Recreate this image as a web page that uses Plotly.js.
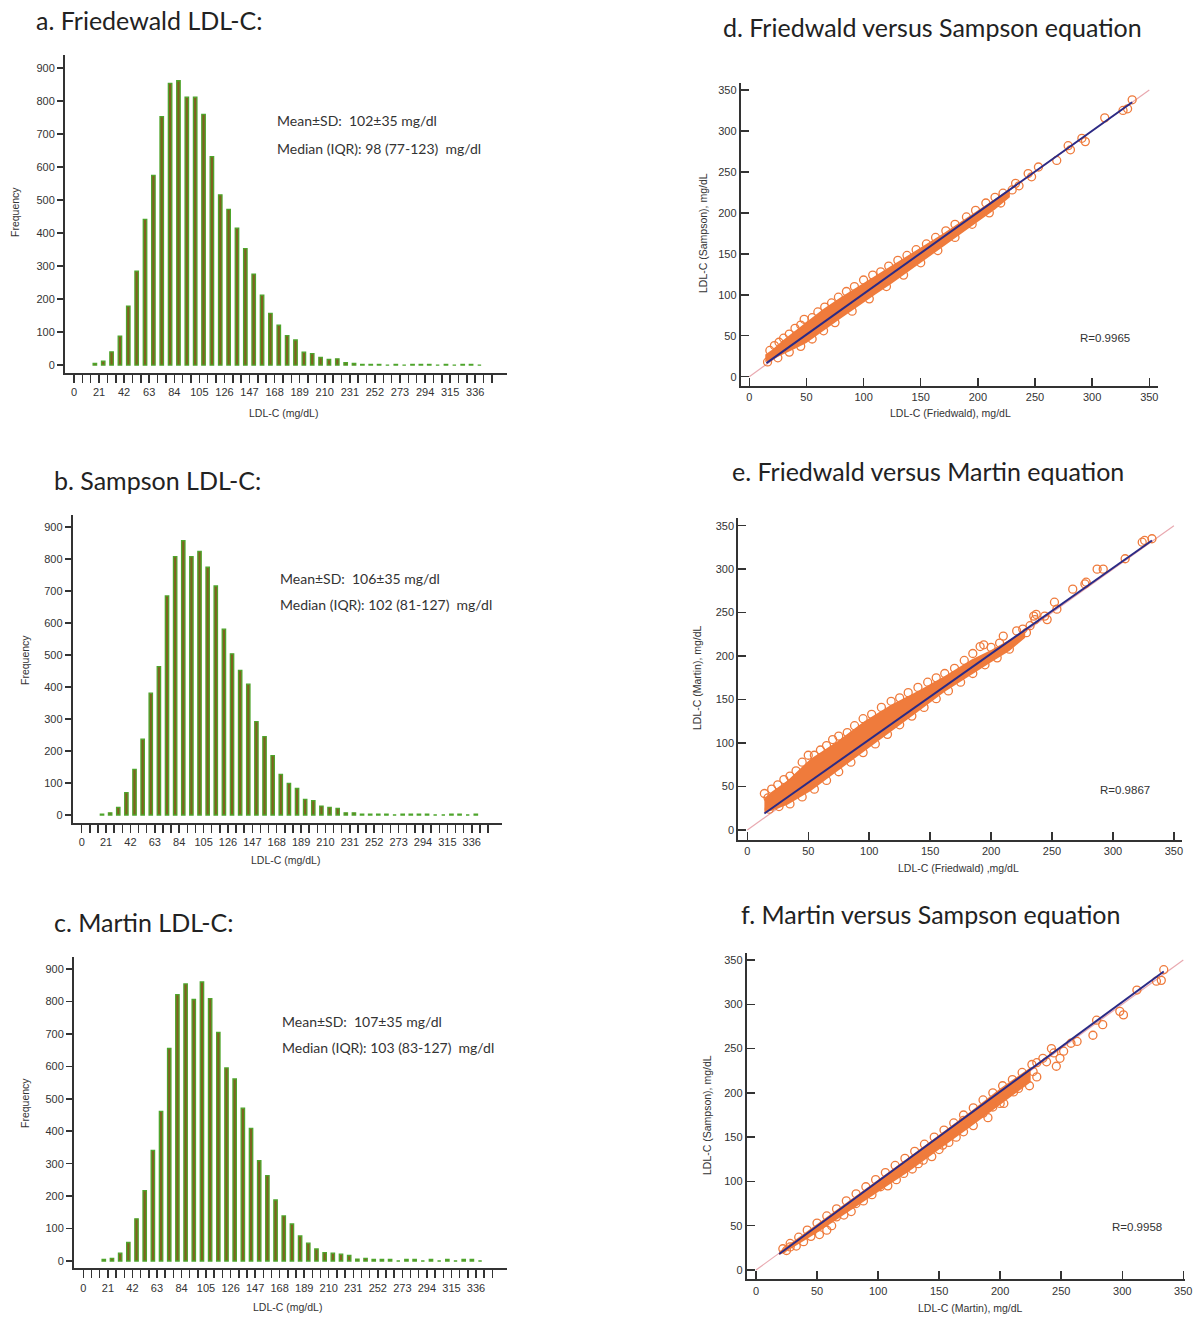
<!DOCTYPE html>
<html>
<head>
<meta charset="utf-8">
<script src="https://cdn.plot.ly/plotly-3.0.1.min.js"></script>
<style>html,body{margin:0;padding:0;background:#fff}#chart{width:1203px;height:1317px}</style>
</head>
<body>
<div id="chart"></div>
<script>
// ---------- DATA ----------
// Histogram bins (lower edges, mg/dL), bin width 7
const binLow = [14,21,28,35,42,49,56,63,70,77,84,91,98,105,112,119,126,133,140,147,154,161,168,175,182,189,196,203,210,217,224,231,238,245,252,259,266,273,280,287,294,301,308,315,322,329,336];
const binWidth = 7;
const freqFriedewald = [5,12,40,88,179,285,442,575,753,854,862,812,812,760,632,516,472,415,353,276,212,157,121,89,76,39,35,23,17,19,7,5,2,2,2,0,2,0,2,2,2,0,2,0,2,2,0];
const freqSampson    = [3,7,24,70,143,237,381,464,685,808,858,808,824,775,716,581,504,452,409,292,245,186,127,99,83,49,45,28,24,21,7,7,3,3,3,3,0,3,3,3,3,0,0,3,3,0,3];
const freqMartin     = [5,8,24,57,130,217,341,461,655,821,854,806,860,809,705,595,561,471,409,309,263,188,139,114,77,55,37,26,24,21,17,6,8,5,5,5,0,5,5,0,5,0,5,0,5,5,0];
const histTicks = [0,21,42,63,84,105,126,147,168,189,210,231,252,273,294,315,336];

const histTitles = ["a. Friedewald LDL-C:", "b. Sampson LDL-C:", "c. Martin LDL-C:"];
const histStats = [
  ["Mean±SD:  102±35 mg/dl", "Median (IQR): 98 (77-123)  mg/dl"],
  ["Mean±SD:  106±35 mg/dl", "Median (IQR): 102 (81-127)  mg/dl"],
  ["Mean±SD:  107±35 mg/dl", "Median (IQR): 103 (83-127)  mg/dl"]
];

// Scatter d: Friedwald (x) vs Sampson (y)
const dBandX = [14,20,30,40,50,65,80,95,110,125,140,155,170,185,200,215,228];
const dBandUp = [27,33,45,56,66,83,97,110,123,136,148,161,175,189,203,217,229];
const dBandLo = [18,21,27,34,41,56,71,86,100,114,128,143,158,174,189,204,219];
const dPtsX = [18,22,26,30,35,40,45,48,55,60,66,72,78,85,92,100,108,115,122,130,138,146,155,163,172,180,190,198,207,215,222,
               16,25,35,45,55,65,75,90,105,120,135,150,165,180,195,210,220,
               230,233,236,244,247,253,269,279,281,291,294,311,327,331,335];
const dPtsY = [32,38,42,47,52,59,63,70,72,79,85,90,97,104,110,118,124,128,135,142,148,155,162,170,178,186,195,203,212,219,224,
               18,23,30,37,46,56,66,80,95,110,124,139,154,170,186,200,212,
               228,236,233,248,244,256,264,282,277,291,287,316,325,327,338];
const dFitX = [15,335];
const dFitY = [16.5,335];

// Scatter e: Friedwald (x) vs Martin (y)
const eBandX = [14,20,33,52,74,96,118,140,162,184,200,215,228];
const eBandUp = [36,44,57,82,102,125,144,160,177,196,207,219,229];
const eBandLo = [20,22,29,45,67,90,113,136,159,179,193,206,221];
const ePtsX = [14,17,20,25,30,35,40,45,50,55,60,65,70,75,82,88,95,102,110,118,125,132,140,148,155,162,170,178,185,191,194,200,207,
               18,26,35,45,55,65,75,85,95,105,115,125,135,145,155,165,175,185,195,205,215,
               210,221,226,229,232,235,237,236,246,244,252,254,267,277,278,287,292,310,324,326,332];
const ePtsY = [42,37,47,52,58,62,68,78,86,86,92,97,104,108,112,120,128,133,141,148,152,158,164,170,175,180,186,195,203,211,213,210,215,
               24,27,30,38,47,57,67,78,89,99,110,121,131,141,151,160,170,180,190,198,208,
               223,229,231,227,235,246,248,242,242,246,262,254,277,283,285,300,300,312,331,333,335];
const eFitX = [14,332];
const eFitY = [19,333];

// Scatter f: Martin (x) vs Sampson (y)
const fBandX = [19,30,50,75,100,125,150,175,200,225];
const fBandUp = [21,32,53,78,102,127,152,178,205,229];
const fBandLo = [17,25,42,65,88,111,136,161,186,212];
const fPtsX = [22,28,35,42,50,58,66,74,82,90,98,106,114,122,130,138,146,154,162,170,178,186,194,202,210,218,226,230,
               25,28,33,39,45,52,58,62,66,72,78,82,88,95,102,108,115,121,128,133,137,144,150,153,158,164,170,170,178,186,190,194,200,203,205,211,215,219,224,227,230,
               235,238,242,244,246,249,252,258,263,276,279,284,298,301,312,328,332,334];
const fPtsY = [24,30,37,45,53,61,69,78,86,94,102,110,118,126,134,142,150,158,166,175,183,192,200,208,215,223,232,234,
               22,26,27,32,38,40,45,50,60,62,66,75,78,85,94,95,102,109,114,120,124,128,136,141,144,150,156,169,163,177,172,184,188,188,200,201,205,215,208,224,218,
               239,235,250,245,230,239,247,256,258,265,282,277,292,288,316,326,327,339];
const fFitX = [19,334];
const fFitY = [18,337];

const identityX = [0,350];
const identityY = [0,350];

const scatterTitles = ["d. Friedwald versus Sampson equation", "e. Friedwald versus Martin equation", "f. Martin versus Sampson equation"];
const scatterR = ["R=0.9965", "R=0.9867", "R=0.9958"];
const scatterXTitles = ["LDL-C (Friedwald), mg/dL", "LDL-C (Friedwald) ,mg/dL", "LDL-C (Martin), mg/dL"];
const scatterYTitles = ["LDL-C (Sampson), mg/dL", "LDL-C (Martin), mg/dL", "LDL-C (Sampson), mg/dL"];
const scatterTicks = [0,50,100,150,200,250,300,350];

// ---------- LAYOUT HELPERS ----------
const W = 1203, H = 1317;
const px = v => v / W;
const py = v => 1 - v / H;

const TICKFONT = {family: "Liberation Sans, Arial, sans-serif", size: 11, color: "#333"};
const TITLEFONT = {family: "Lato, 'Open Sans', sans-serif", size: 25, color: "#222"};
const STATFONT = {family: "Lato, 'Open Sans', sans-serif", size: 14, color: "#333"};
const SMALLFONT = {family: "Liberation Sans, Arial, sans-serif", size: 10.5, color: "#333"};

// plot boxes in pixels [left, right, top, bottom]
const histBoxes = [[65,507,55,373],[72.7,501.7,515,822.7],[74,506.7,956.7,1268.3]];
const histX = [[-7.5,362.6],[-7.75,361.8],[-8,362.3]];
const histY = [[-24,940],[-24,938],[-22.5,938]];
const scatBoxes = [[740.7,1158,82.7,386],[738.3,1181.7,518.3,840],[746.7,1185,952.7,1279.3]];
const scatX = [[-7.5,357.6],[-7.4,356.4],[-7.6,351.4]];
const scatY = [[-11.4,358.9],[-11.5,358.5],[-10.5,358.2]];

const histTitlePos = [[34,20],[52,480],[52,922]];
const histStatPos = [[275,121,148],[278,578,604],[280,1021,1047]];
const histXTitlePos = [[283,413],[285,860],[287,1307]];
const histYTitlePos = [[15,212],[25,660],[25,1103]];
const scatTitlePos = [[932,27],[928,471],[931,914]];
const scatRPos = [[1105,338],[1125,790],[1137,1227]];
const scatXTitlePos = [[950,413],[958,868],[970,1308]];
const scatYTitlePos = [[703,233],[697,678],[707,1115]];

const layout = {
  width: W, height: H,
  margin: {l:0, r:0, t:0, b:0},
  paper_bgcolor: "#fff", plot_bgcolor: "#fff",
  showlegend: false,
  annotations: [],
  font: {family: "Liberation Sans, Arial, sans-serif"}
};
const traces = [];

const histTickVals = [];
for (let v = 0; v <= 350; v += binWidth) histTickVals.push(v);
const histTickText = histTickVals.map(v => histTicks.includes(v) ? String(v) : "");

const freqs = [freqFriedewald, freqSampson, freqMartin];
const centers = binLow.map(b => b + binWidth / 2);

for (let i = 0; i < 3; i++) {
  const n = i + 1;
  const sfx = n === 1 ? "" : String(n);
  const b = histBoxes[i];
  layout["xaxis" + sfx] = {
    domain: [px(b[0]), px(b[1])], anchor: "y" + sfx,
    range: histX[i], tickmode: "array", tickvals: histTickVals, ticktext: histTickText,
    ticks: "outside", ticklen: 8, tickwidth: 1.5, tickcolor: "#333",
    showline: true, linecolor: "#333", linewidth: 2, showgrid: false, zeroline: false,
    tickfont: TICKFONT, tickangle: 0, fixedrange: true
  };
  layout["yaxis" + sfx] = {
    domain: [py(b[3]), py(b[2])], anchor: "x" + sfx,
    range: histY[i], tickmode: "array", tickvals: [0,100,200,300,400,500,600,700,800,900],
    ticks: "outside", ticklen: 6, tickwidth: 1.5, tickcolor: "#333",
    showline: true, linecolor: "#333", linewidth: 2, showgrid: false, zeroline: false,
    tickfont: TICKFONT, fixedrange: true
  };
  traces.push({
    type: "bar", x: centers, y: freqs[i], width: 2.9,
    xaxis: "x" + sfx, yaxis: "y" + sfx,
    marker: {color: "#80601f", line: {color: "#4ea52c", width: 1.3}},
    hoverinfo: "x+y"
  });
  layout.annotations.push({xref:"paper", yref:"paper", x:px(histTitlePos[i][0]), y:py(histTitlePos[i][1]),
    xanchor:"left", yanchor:"middle", text: histTitles[i], showarrow:false, font: TITLEFONT});
  layout.annotations.push({xref:"paper", yref:"paper", x:px(histStatPos[i][0]), y:py(histStatPos[i][1]),
    xanchor:"left", yanchor:"middle", text: histStats[i][0], showarrow:false, font: STATFONT});
  layout.annotations.push({xref:"paper", yref:"paper", x:px(histStatPos[i][0]), y:py(histStatPos[i][2]),
    xanchor:"left", yanchor:"middle", text: histStats[i][1], showarrow:false, font: STATFONT});
  layout.annotations.push({xref:"paper", yref:"paper", x:px(histXTitlePos[i][0]), y:py(histXTitlePos[i][1]),
    xanchor:"center", yanchor:"middle", text: "LDL-C (mg/dL)", showarrow:false, font: SMALLFONT});
  layout.annotations.push({xref:"paper", yref:"paper", x:px(histYTitlePos[i][0]), y:py(histYTitlePos[i][1]),
    xanchor:"center", yanchor:"middle", text: "Frequency", textangle:-90, showarrow:false, font: SMALLFONT});
}

const scat = [
  {bx:dBandX, up:dBandUp, lo:dBandLo, px:dPtsX, py:dPtsY, fx:dFitX, fy:dFitY},
  {bx:eBandX, up:eBandUp, lo:eBandLo, px:ePtsX, py:ePtsY, fx:eFitX, fy:eFitY},
  {bx:fBandX, up:fBandUp, lo:fBandLo, px:fPtsX, py:fPtsY, fx:fFitX, fy:fFitY}
];
const ORANGE = "#ef7b3c";

for (let i = 0; i < 3; i++) {
  const n = i + 4;
  const xr = "x" + n, yr = "y" + n;
  const b = scatBoxes[i];
  layout["xaxis" + n] = {
    domain: [px(b[0]), px(b[1])], anchor: yr, range: scatX[i],
    tickmode: "array", tickvals: scatterTicks,
    ticks: "inside", ticklen: 8, tickwidth: 1.5, tickcolor: "#333",
    showline: true, linecolor: "#333", linewidth: 2, showgrid: false, zeroline: false,
    tickfont: TICKFONT, fixedrange: true
  };
  layout["yaxis" + n] = {
    domain: [py(b[3]), py(b[2])], anchor: xr, range: scatY[i],
    tickmode: "array", tickvals: scatterTicks,
    ticks: "inside", ticklen: 8, tickwidth: 1.5, tickcolor: "#333",
    showline: true, linecolor: "#333", linewidth: 2, showgrid: false, zeroline: false,
    tickfont: TICKFONT, fixedrange: true
  };
  const s = scat[i];
  traces.push({type:"scatter", mode:"lines", x: identityX, y: identityY, xaxis:xr, yaxis:yr,
    line:{color:"#e9a9b0", width:1.2}, hoverinfo:"skip"});
  traces.push({type:"scatter", mode:"lines", x: s.bx.concat(s.bx.slice().reverse()),
    y: s.up.concat(s.lo.slice().reverse()), fill:"toself", fillcolor: ORANGE,
    line:{width:0, color: ORANGE}, xaxis:xr, yaxis:yr, hoverinfo:"skip"});
  traces.push({type:"scatter", mode:"markers", x: s.px, y: s.py, xaxis:xr, yaxis:yr,
    marker:{symbol:"circle-open", size:8, color: ORANGE, line:{width:1.3, color: ORANGE}}});
  traces.push({type:"scatter", mode:"lines", x: s.fx, y: s.fy, xaxis:xr, yaxis:yr,
    line:{color:"#2b2b86", width:2}, hoverinfo:"skip"});

  layout.annotations.push({xref:"paper", yref:"paper", x:px(scatTitlePos[i][0]), y:py(scatTitlePos[i][1]),
    xanchor:"center", yanchor:"middle", text: scatterTitles[i], showarrow:false, font: TITLEFONT});
  layout.annotations.push({xref:"paper", yref:"paper", x:px(scatRPos[i][0]), y:py(scatRPos[i][1]),
    xanchor:"center", yanchor:"middle", text: scatterR[i], showarrow:false, font: {family:TICKFONT.family, size:11.5, color:"#333"}});
  layout.annotations.push({xref:"paper", yref:"paper", x:px(scatXTitlePos[i][0]), y:py(scatXTitlePos[i][1]),
    xanchor:"center", yanchor:"middle", text: scatterXTitles[i], showarrow:false, font: SMALLFONT});
  layout.annotations.push({xref:"paper", yref:"paper", x:px(scatYTitlePos[i][0]), y:py(scatYTitlePos[i][1]),
    xanchor:"center", yanchor:"middle", text: scatterYTitles[i], textangle:-90, showarrow:false, font: SMALLFONT});
}

Plotly.newPlot("chart", traces, layout, {displayModeBar:false, staticPlot:true});
</script>
</body>
</html>
